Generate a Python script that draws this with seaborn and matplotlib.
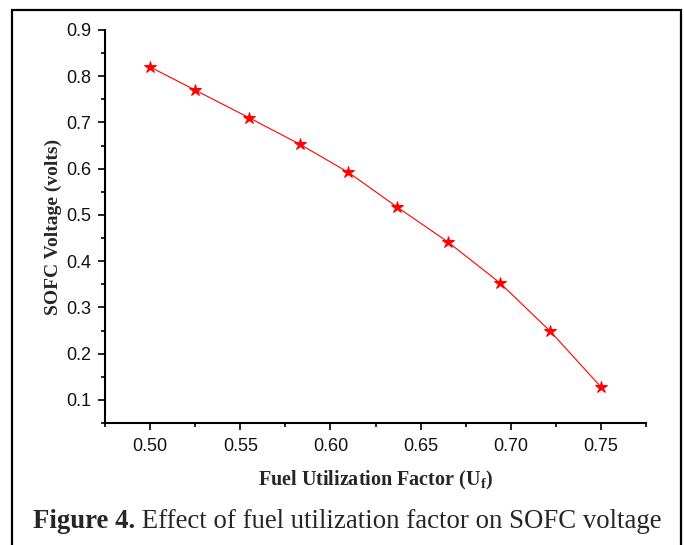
"""
SOFC voltage vs fuel utilization factor (Figure 4 recreation).
"""

import numpy as np
import pandas as pd
import matplotlib
matplotlib.use("Agg")
import matplotlib.pyplot as plt
from matplotlib.patches import Rectangle
from matplotlib.ticker import MultipleLocator
import seaborn as sns


# ──────────────────────────────────────────────────────────────────────────────
# Data
# ──────────────────────────────────────────────────────────────────────────────

fuel_utilization = [0.500, 0.525, 0.555, 0.583, 0.610, 0.637, 0.665, 0.694, 0.722, 0.750]
sofc_voltage     = [0.820, 0.770, 0.710, 0.653, 0.592, 0.517, 0.442, 0.353, 0.248, 0.128]

x_ticks = [0.50, 0.55, 0.60, 0.65, 0.70, 0.75]
y_ticks = [0.1, 0.2, 0.3, 0.4, 0.5, 0.6, 0.7, 0.8, 0.9]

x_label = r"Fuel Utilization Factor (U$_\mathbf{f}$)"
y_label = "SOFC Voltage (volts)"
caption_bold = "Figure 4."
caption_rest = " Effect of fuel utilization factor on SOFC voltage"


def main():
    sns.set_style("ticks")
    plt.rcParams["font.family"] = ["Liberation Sans", "DejaVu Sans"]
    plt.rcParams["mathtext.fontset"] = "custom"
    plt.rcParams["mathtext.rm"] = "Liberation Serif"
    plt.rcParams["mathtext.bf"] = "Liberation Serif:bold"

    df = pd.DataFrame({"uf": fuel_utilization, "v": sofc_voltage})

    fig = plt.figure(figsize=(6.84, 5.45), dpi=100)
    ax = fig.add_axes([105 / 684, 1 - 423 / 545, 541 / 684, 393 / 545])

    sns.lineplot(data=df, x="uf", y="v", ax=ax, color="red", lw=0.8,
                 marker="*", markersize=9, markeredgecolor="red")

    ax.set_xlim(0.475, 0.775)
    ax.set_ylim(0.05, 0.9)
    ax.set_xticks(x_ticks)
    ax.set_yticks(y_ticks)
    ax.set_xticklabels([f"{t:.2f}" for t in x_ticks])
    ax.set_yticklabels([f"{t:.1f}" for t in y_ticks])
    ax.xaxis.set_minor_locator(MultipleLocator(0.025))
    ax.yaxis.set_minor_locator(MultipleLocator(0.05))
    ax.tick_params(which="major", length=5, width=1.2, labelsize=13,
                   color="black", labelcolor="#111111")
    ax.tick_params(which="minor", length=3, width=1.2, color="black")
    ax.tick_params(axis="x", pad=6)
    ax.tick_params(axis="y", pad=5)

    sns.despine(ax=ax)
    for side in ["left", "bottom"]:
        ax.spines[side].set_linewidth(1.5)
        ax.spines[side].set_color("black")

    ax.set_xlabel(x_label, family="Liberation Serif", fontweight="bold",
                  fontsize=14.5, labelpad=10)
    ax.set_ylabel(y_label, family="Liberation Serif", fontweight="bold",
                  fontsize=14, labelpad=3)

    # caption below the chart
    t1 = fig.text(33 / 684, 1 - 521 / 545, caption_bold, family="Liberation Serif",
                  fontweight="bold", fontsize=19.25, va="center", ha="left")
    fig.canvas.draw()
    bb = t1.get_window_extent()
    fig.text(bb.x1 / fig.bbox.width, 1 - 521 / 545, caption_rest,
             family="Liberation Serif", fontsize=19.25, va="center", ha="left")

    # outer frame
    fig.patches.append(Rectangle((12 / 684, -0.02), 669 / 684, 1.02 - 10 / 545,
                                 transform=fig.transFigure, fill=False,
                                 edgecolor="black", lw=1.6))

    fig.savefig("out.png", dpi=100)
    plt.close(fig)


if __name__ == "__main__":
    main()
